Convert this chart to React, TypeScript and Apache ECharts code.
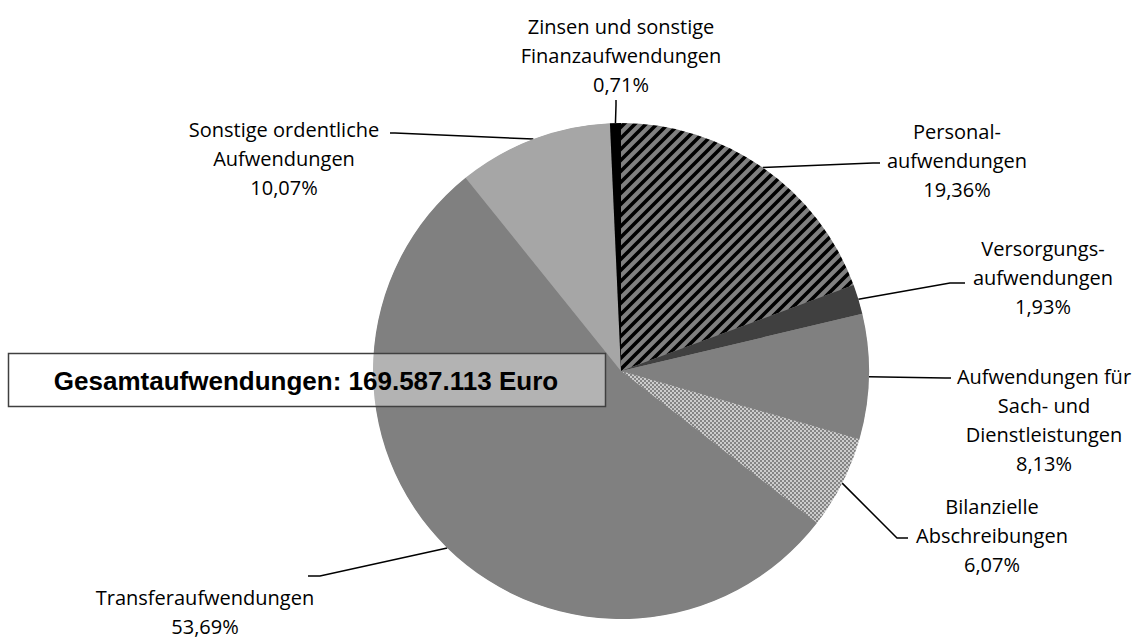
import { useEffect, useRef } from 'react';
import * as echarts from 'echarts';

// ---- data ----
const categories = [
  'Personal-\naufwendungen',
  'Versorgungs-\naufwendungen',
  'Aufwendungen für\nSach- und\nDienstleistungen',
  'Bilanzielle\nAbschreibungen',
  'Transferaufwendungen',
  'Sonstige ordentliche\nAufwendungen',
  'Zinsen und sonstige\nFinanzaufwendungen',
];
const shares = [19.36, 1.93, 8.13, 6.07, 53.69, 10.07, 0.71];
const totalLabel = 'Gesamtaufwendungen: 169.587.113 Euro';

// ---- layout (label block centers and leader-line knees/ends) ----
const labelCenters = [
  [957, 160],
  [1043, 277],
  [1044, 420],
  [992, 535],
  [205, 612],
  [284, 158],
  [621, 55],
];
const lineKnees = [
  [[873, 163], [880, 163]],
  [[950, 283], [965, 283]],
  [[945, 378], [951, 378]],
  [[897, 538], [908, 538]],
  [[320, 576], [308, 576]],
  [[395, 133], [390, 133]],
  [[616, 105], [616, 100]],
];

function stripePattern() {
  const s = 11;
  const c = document.createElement('canvas');
  c.width = s;
  c.height = s;
  const ctx = c.getContext('2d')!;
  ctx.fillStyle = '#808080';
  ctx.fillRect(0, 0, s, s);
  ctx.strokeStyle = '#000';
  ctx.lineWidth = 3.6;
  ctx.beginPath();
  ctx.moveTo(-1, s + 1);
  ctx.lineTo(s + 1, -1);
  ctx.moveTo(-4, 4);
  ctx.lineTo(4, -4);
  ctx.moveTo(s - 4, s + 4);
  ctx.lineTo(s + 4, s - 4);
  ctx.stroke();
  return { image: c, repeat: 'repeat', imageWidth: s, imageHeight: s };
}

function checkPattern() {
  const s = 4;
  const c = document.createElement('canvas');
  c.width = s;
  c.height = s;
  const ctx = c.getContext('2d')!;
  ctx.fillStyle = '#cccccc';
  ctx.fillRect(0, 0, s, s);
  ctx.fillStyle = '#848484';
  ctx.fillRect(0, 0, 2, 2);
  ctx.fillRect(2, 2, 2, 2);
  return { image: c, repeat: 'repeat', imageWidth: s, imageHeight: s };
}

export default function App() {
  const ref = useRef<HTMLDivElement>(null);
  useEffect(() => {
    if (!ref.current) return;
    const chart = echarts.init(ref.current, null, { renderer: 'svg' });
    const colors: any[] = [
      stripePattern(),
      '#404040',
      '#808080',
      checkPattern(),
      '#808080',
      '#a6a6a6',
      '#000000',
    ];
    const fmt = (v: number) => v.toFixed(2).replace('.', ',') + '%';
    chart.setOption({
      animation: false,
      backgroundColor: '#ffffff',
      series: [
        {
          // underlying disc so that slice seams don't show white
          type: 'pie',
          z: 1,
          center: [621, 371],
          radius: 247.5,
          silent: true,
          label: { show: false },
          labelLine: { show: false },
          itemStyle: { color: '#8a8a8a', borderWidth: 0 },
          data: [{ name: '', value: 1 }],
          emphasis: { disabled: true },
          tooltip: { show: false },
        },
        {
          type: 'pie',
          z: 2,
          center: [621, 371],
          radius: 248,
          startAngle: 90,
          clockwise: true,
          silent: true,
          avoidLabelOverlap: false,
          itemStyle: { borderWidth: 0 },
          data: categories.map((name, i) => ({
            name,
            value: shares[i],
            itemStyle: { color: colors[i], borderWidth: 0 },
          })),
          label: {
            show: true,
            position: 'outside',
            formatter: (p: any) => p.name + '\n' + fmt(p.value),
            fontFamily: '"Open Sans", sans-serif',
            fontSize: 20,
            lineHeight: 29,
            color: '#000',
            align: 'center',
          },
          labelLine: {
            show: true,
            length: 20,
            length2: 10,
            lineStyle: { color: '#000', width: 1.5 },
          },
          labelLayout: (params: any) => {
            const i = params.dataIndex;
            const p0 = params.labelLinePoints ? params.labelLinePoints[0] : lineKnees[i][0];
            return {
              x: labelCenters[i][0],
              y: labelCenters[i][1],
              align: 'center',
              verticalAlign: 'middle',
              labelLinePoints: [p0, lineKnees[i][0], lineKnees[i][1]],
            };
          },
          emphasis: { disabled: true },
        },
      ],
      graphic: [
        {
          type: 'rect',
          z: 100,
          shape: { x: 8.5, y: 353.5, width: 597, height: 53 },
          style: { fill: 'rgba(255,255,255,0.4)', stroke: '#404040', lineWidth: 1.5 },
        },
        {
          type: 'text',
          z: 101,
          x: 306,
          y: 381,
          style: {
            text: totalLabel,
            font: 'bold 26px "Liberation Sans", Arial, sans-serif',
            fill: '#000',
            align: 'center',
            verticalAlign: 'middle',
          },
        },
      ],
    });
    return () => chart.dispose();
  }, []);
  return (
    <div
      ref={ref}
      style={{ position: 'absolute', left: 0, top: 0, width: 1148, height: 639 }}
    />
  );
}
